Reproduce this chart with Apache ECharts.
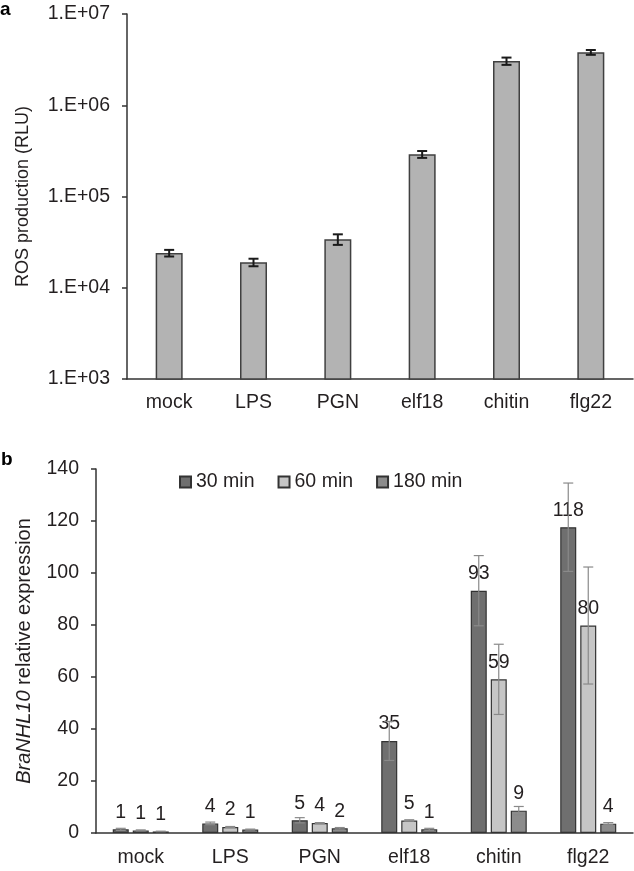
<!DOCTYPE html>
<html>
<head>
<meta charset="utf-8">
<script src="https://cdn.jsdelivr.net/npm/echarts@6/dist/echarts.min.js"></script>
<style>
    html, body { margin: 0; padding: 0; background: #fff; }
    #chart { width: 634px; height: 871px; }
</style>
</head>
<body>
<div id="chart"></div>
<script>
// panel a
const categories = ["mock", "LPS", "PGN", "elf18", "chitin", "flg22"]
const rosValues = [24000, 19000, 34000, 290000, 3050000, 3800000]
const rosErrors = [2000, 1800, 4500, 25000, 280000, 230000]

// panel b
const timeSeries = ["30 min", "60 min", "180 min"]
const expr30 = [1.4, 3.7, 4.9, 35.4, 93.2, 117.6]
const expr60 = [1.0, 2.3, 3.8, 4.8, 59.1, 79.8]
const expr180 = [0.6, 1.3, 1.8, 1.4, 8.6, 3.6]
const err30 = [0.4, 0.5, 1.0, 7.5, 13.5, 17]
const err60 = [0.2, 0.2, 0.2, 0.3, 13.5, 22.5]
const err180 = [0.1, 0.2, 0.3, 0.4, 1.6, 0.4]

const font = "Liberation Sans"
const fs = 19.5
const textColor = "#231f20"
const axisColor = "#333"

const toErrData = (values, errors) =>
    values.map((v, i) => [i, v - errors[i], v + errors[i]])

// draws a vertical error bar with caps, shifted by offset px
const errorBar = (offset, color, width, cap) => (params, api) => {
    const hi = api.coord([api.value(0), api.value(2)])
    const lo = api.coord([api.value(0), api.value(1)])
    const x = hi[0] + offset
    const style = { stroke: color, lineWidth: width }
    return {
        type: "group",
        children: [
            { type: "line", shape: { x1: x, y1: hi[1], x2: x, y2: lo[1] }, style },
            { type: "line", shape: { x1: x - cap, y1: hi[1], x2: x + cap, y2: hi[1] }, style },
            { type: "line", shape: { x1: x - cap, y1: lo[1], x2: x + cap, y2: lo[1] }, style },
        ],
    }
}

const logLabel = (v) =>
    "1.E+" + String(Math.round(Math.log10(v))).padStart(2, "0")

const barColors = ["#6f6f6f", "#c6c6c6", "#8c8c8c"]
const exprSeries = [expr30, expr60, expr180]
const errSeries = [err30, err60, err180]
const offsets = [-20, 0, 20]

const chart = echarts.init(document.getElementById("chart"))

const config = {
    animation: false,
    textStyle: { fontFamily: font, color: textColor },
    graphic: [
        { type: "text", left: 0, top: 0, style: { text: "a", font: "bold 19px " + font, fill: "#000" } },
        { type: "text", left: 1, top: 450, style: { text: "b", font: "bold 19px " + font, fill: "#000" } },
    ],
    legend: {
        data: timeSeries,
        left: 174,
        top: 467,
        itemWidth: 11,
        itemHeight: 11,
        itemGap: 23,
        icon: "rect",
        textStyle: { fontSize: fs, color: textColor, fontFamily: font },
    },
    grid: [
        { left: 127, top: 14, width: 506, height: 365 },
        { left: 96, top: 469, width: 537, height: 364 },
    ],
    xAxis: [
        {
            gridIndex: 0,
            type: "category",
            data: categories,
            axisLine: { lineStyle: { color: axisColor, width: 1.5 } },
            axisTick: { length: 6, lineStyle: { color: axisColor, width: 1.5 } },
            axisLabel: { fontSize: fs, color: textColor, margin: 14 },
        },
        {
            gridIndex: 1,
            type: "category",
            data: categories,
            axisLine: { lineStyle: { color: axisColor, width: 1.5 } },
            axisTick: { length: 6, lineStyle: { color: axisColor, width: 1.5 } },
            axisLabel: { fontSize: fs, color: textColor, margin: 15 },
        },
    ],
    yAxis: [
        {
            gridIndex: 0,
            type: "log",
            logBase: 10,
            min: 1000,
            max: 10000000,
            splitLine: { show: false },
            axisLine: { show: true, lineStyle: { color: axisColor, width: 1.5 } },
            axisTick: { show: true, length: 5, lineStyle: { color: axisColor, width: 1.5 } },
            axisLabel: { fontSize: fs, color: textColor, margin: 17, formatter: logLabel },
            name: "ROS production (RLU)",
            nameLocation: "middle",
            nameGap: 95,
            nameTextStyle: { fontSize: 18, color: textColor, fontFamily: font },
        },
        {
            gridIndex: 1,
            type: "value",
            min: 0,
            max: 140,
            interval: 20,
            splitLine: { show: false },
            axisLine: { show: true, lineStyle: { color: axisColor, width: 1.5 } },
            axisTick: { show: true, length: 5, lineStyle: { color: axisColor, width: 1.5 } },
            axisLabel: { fontSize: fs, color: textColor, margin: 17 },
            name: "{i|BraNHL10} relative expression",
            nameLocation: "middle",
            nameGap: 62,
            nameTextStyle: {
                fontSize: 20,
                color: textColor,
                fontFamily: font,
                rich: {
                    i: { fontStyle: "italic", fontSize: 20, color: textColor, fontFamily: font },
                },
            },
        },
    ],
    series: [
        {
            type: "bar",
            xAxisIndex: 0,
            yAxisIndex: 0,
            barWidth: 27,
            data: rosValues,
            itemStyle: { color: "#b3b3b3", borderColor: "#404040", borderWidth: 1.5 },
        },
        {
            type: "custom",
            xAxisIndex: 0,
            yAxisIndex: 0,
            data: toErrData(rosValues, rosErrors),
            renderItem: errorBar(0, "#1a1a1a", 2, 5),
            z: 5,
        },
        ...timeSeries.map((name, k) => ({
            name,
            type: "bar",
            xAxisIndex: 1,
            yAxisIndex: 1,
            barWidth: 16,
            barGap: "25%",
            data: exprSeries[k],
            itemStyle: { color: barColors[k], borderColor: "#333", borderWidth: 1.2 },
            label: {
                show: true,
                position: "top",
                distance: 7,
                fontSize: fs,
                color: textColor,
                fontFamily: font,
                formatter: (p) => Math.round(p.value),
            },
        })),
        ...timeSeries.map((name, k) => ({
            type: "custom",
            xAxisIndex: 1,
            yAxisIndex: 1,
            data: toErrData(exprSeries[k], errSeries[k]),
            renderItem: errorBar(offsets[k], "#8a8a8a", 1.2, 5),
            z: 5,
        })),
    ],
}

chart.setOption(config)
</script>
</body>
</html>
